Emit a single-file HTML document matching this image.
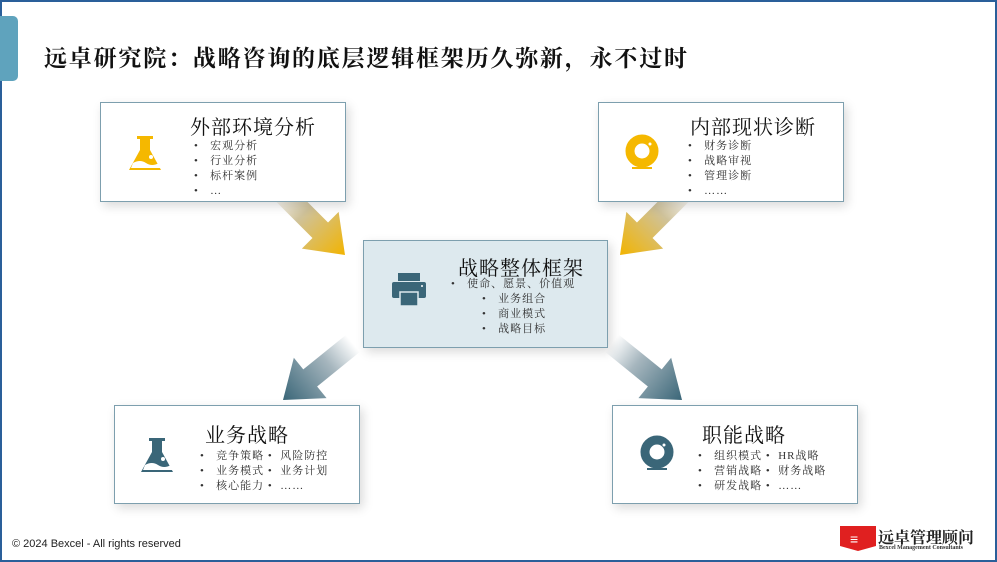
<!DOCTYPE html>
<html><head><meta charset="utf-8"><style>
body{margin:0;width:997px;height:562px;overflow:hidden;background:#fff;font-family:"Liberation Serif","Noto Serif CJK SC",serif;}
.frame{position:absolute;left:0;top:0;width:993px;height:558px;border:2px solid #2a5f9a;}
.tab{position:absolute;left:0;top:16px;width:18px;height:65px;background:#5fa3bd;border-radius:0 5px 5px 0;}
.title{position:absolute;left:44px;top:40px;font-size:23px;font-weight:bold;color:#111;letter-spacing:1.8px;white-space:nowrap;}
.box{position:absolute;border:1.5px solid #7d9fae;background:#fff;box-shadow:3px 4px 10px rgba(0,0,0,0.15);box-sizing:border-box;}
.h{position:absolute;font-size:20px;color:#111;white-space:nowrap;letter-spacing:1px;}
.l{position:absolute;font-size:11px;line-height:15px;color:#333;white-space:nowrap;letter-spacing:1px;}
.copy{position:absolute;left:12px;top:538px;font-family:"Liberation Sans",sans-serif;font-size:11px;color:#222;}
svg{position:absolute;left:0;top:0;}
</style></head><body>
<div class="frame"></div><div class="tab"></div>
<div class="title">远卓研究院：战略咨询的底层逻辑框架历久弥新，永不过时</div>
<svg width="997" height="562">
<defs>
<linearGradient id="gy" x1="0" y1="0" x2="1" y2="0"><stop offset="0" stop-color="#fff"/><stop offset="0.35" stop-color="#cfc29a"/><stop offset="1" stop-color="#f2b400"/></linearGradient>
<linearGradient id="gt" x1="0" y1="0" x2="1" y2="0"><stop offset="0" stop-color="#fff"/><stop offset="0.35" stop-color="#a6b6be"/><stop offset="1" stop-color="#3a6678"/></linearGradient>
</defs>
<!-- arrow local: along +x, length 90, tip at x=90 -->
<g transform="translate(345,255) rotate(45) translate(-90,0)"><polygon points="0,-11 55,-11 55,-26 90,0 55,26 55,11 0,11" fill="url(#gy)"/></g>
<g transform="translate(620,255) rotate(135) translate(-90,0)"><polygon points="0,-11 55,-11 55,-26 90,0 55,26 55,11 0,11" fill="url(#gy)"/></g>
<g transform="translate(283,400) rotate(141) translate(-90,0)"><polygon points="0,-11 55,-11 55,-26 90,0 55,26 55,11 0,11" fill="url(#gt)"/></g>
<g transform="translate(682,400) rotate(39) translate(-90,0)"><polygon points="0,-11 55,-11 55,-26 90,0 55,26 55,11 0,11" fill="url(#gt)"/></g>
</svg>
<div class="box" style="left:100px;top:102px;width:246px;height:100px"></div>
<div class="box" style="left:598px;top:102px;width:246px;height:100px"></div>
<div class="box" style="left:363px;top:240px;width:245px;height:108px;background:#dde9ee"></div>
<div class="box" style="left:114px;top:405px;width:246px;height:99px"></div>
<div class="box" style="left:612px;top:405px;width:246px;height:99px"></div>
<svg width="997" height="562">
<!-- flask yellow -->
<g transform="translate(130,136)">
<path d="M7,0h16v3h-3v11l11,20h-32l11,-20v-11h-3z" fill="#f5b800"/>
<path d="M3,27q7,-4 13,0t13,0l2,5h-30z" fill="#fff"/>
<circle cx="21" cy="21" r="2" fill="#fff"/>
</g>
<!-- flask teal -->
<g transform="translate(142,438)">
<path d="M7,0h16v3h-3v11l11,20h-32l11,-20v-11h-3z" fill="#3a6678"/>
<path d="M3,27q7,-4 13,0t13,0l2,5h-30z" fill="#fff"/>
<circle cx="21" cy="21" r="2" fill="#fff"/>
</g>
<!-- ring yellow -->
<circle cx="642" cy="151" r="12" fill="none" stroke="#f5b800" stroke-width="9"/>
<rect x="632" y="167" width="20" height="2" fill="#f5b800"/>
<circle cx="650" cy="144" r="1.5" fill="#fff"/>
<!-- ring teal -->
<circle cx="657" cy="452" r="12" fill="none" stroke="#3a6678" stroke-width="9"/>
<rect x="647" y="468" width="20" height="2" fill="#3a6678"/>
<circle cx="664" cy="445" r="1.5" fill="#fff"/>
<!-- printer -->
<rect x="398" y="273" width="22" height="8" fill="#3a6678"/>
<rect x="392" y="282" width="34" height="16" rx="2" fill="#3a6678"/>
<rect x="400" y="292" width="18" height="14" fill="#3a6678" stroke="#dde9ee" stroke-width="1.5"/>
<circle cx="422" cy="286" r="1" fill="#fff"/>
<!-- logo -->
<path d="M840,526h36v20l-18,5l-18,-5z" fill="#e02020"/>
<text x="850" y="544" font-size="14" font-weight="bold" fill="#fff" font-family="Liberation Sans">≡</text>
</svg>
<div class="h" style="left:190px;top:111px">外部环境分析</div>
<div class="l" style="left:194px;top:139px">•&nbsp;&nbsp; 宏观分析<br>•&nbsp;&nbsp; 行业分析<br>•&nbsp;&nbsp; 标杆案例<br>•&nbsp;&nbsp; …</div>
<div class="h" style="left:690px;top:111px">内部现状诊断</div>
<div class="l" style="left:688px;top:139px">•&nbsp;&nbsp; 财务诊断<br>•&nbsp;&nbsp; 战略审视<br>•&nbsp;&nbsp; 管理诊断<br>•&nbsp;&nbsp; ……</div>
<div class="h" style="left:458px;top:252px">战略整体框架</div>
<div class="l" style="left:451px;top:277px">•&nbsp;&nbsp; 使命、愿景、价值观</div>
<div class="l" style="left:482px;top:292px">•&nbsp;&nbsp; 业务组合<br>•&nbsp;&nbsp; 商业模式<br>•&nbsp;&nbsp; 战略目标</div>
<div class="h" style="left:205px;top:419px">业务战略</div>
<div class="l" style="left:200px;top:449px">•&nbsp;&nbsp; 竞争策略 •&nbsp; 风险防控<br>•&nbsp;&nbsp; 业务模式 •&nbsp; 业务计划<br>•&nbsp;&nbsp; 核心能力 •&nbsp; ……</div>
<div class="h" style="left:702px;top:419px">职能战略</div>
<div class="l" style="left:698px;top:449px">•&nbsp;&nbsp; 组织模式 •&nbsp; HR战略<br>•&nbsp;&nbsp; 营销战略 •&nbsp; 财务战略<br>•&nbsp;&nbsp; 研发战略 •&nbsp; ……</div>
<div class="copy">© 2024 Bexcel - All rights reserved</div>
<div style="position:absolute;left:878px;top:525px;font-size:16px;font-weight:bold;color:#222;white-space:nowrap">远卓管理顾问</div>
<div style="position:absolute;left:879px;top:545px;font-size:6px;font-weight:bold;color:#333;white-space:nowrap">Bexcel Management Consultants</div>
</body></html>
